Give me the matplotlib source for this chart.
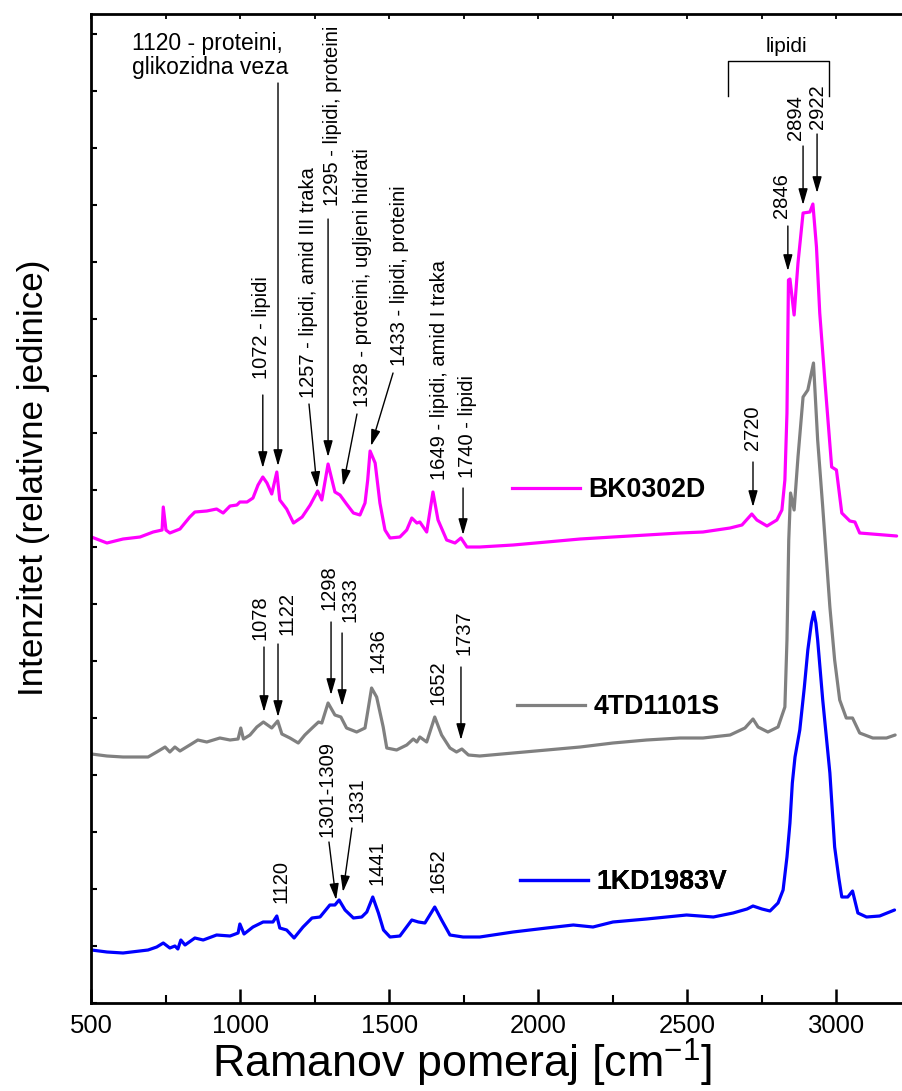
import matplotlib
matplotlib.use("Agg")
import matplotlib.pyplot as plt
from matplotlib.lines import Line2D
from matplotlib.ticker import MultipleLocator
from matplotlib import font_manager

plt.rcParams['font.family'] = ['Liberation Sans', 'DejaVu Sans']
plt.rcParams['mathtext.default'] = 'regular'

_names = {f.name for f in font_manager.fontManager.ttflist}
HAS_NARROW = 'Liberation Sans Narrow' in _names
AX_FONT = ['Liberation Sans Narrow', 'Liberation Sans', 'DejaVu Sans'] if HAS_NARROW else ['Liberation Sans', 'DejaVu Sans']
K = 1.0 if HAS_NARROW else 0.84

# ---------------- data ----------------
series_names = ["BK0302D", "4TD1101S", "1KD1983V"]
series_colors = ["#FF00FF", "#808080", "#0000FF"]

bk_x = [500, 552, 606, 663, 707, 737, 741, 750, 763, 797, 830, 847, 887, 920, 942, 965, 988, 998,
        1022, 1042, 1059, 1075, 1089, 1105, 1122, 1132, 1155, 1178, 1207, 1234, 1259, 1273, 1294,
        1317, 1334, 1356, 1379, 1401, 1418, 1427, 1435, 1452, 1468, 1485, 1502, 1535, 1558, 1575,
        1592, 1602, 1625, 1646, 1663, 1692, 1720, 1740, 1760, 1803, 1915, 2028, 2140, 2250, 2363,
        2475, 2552, 2643, 2683, 2716, 2733, 2767, 2800, 2817, 2827, 2834, 2839, 2844, 2858, 2871,
        2888, 2911, 2921, 2933, 2944, 2961, 2984, 3000, 3018, 3045, 3062, 3078, 3202]
bk_y = [4660, 4600, 4640, 4660, 4710, 4730, 4960, 4730, 4700, 4740, 4860, 4910, 4920, 4940, 4900,
        4970, 4980, 5010, 5010, 5050, 5180, 5260, 5200, 5090, 5310, 5030, 4940, 4800, 4860, 4980,
        5120, 5030, 5390, 5110, 5080, 4990, 4900, 4880, 5000, 5230, 5520, 5400, 5000, 4730, 4650,
        4660, 4730, 4850, 4800, 4810, 4710, 5110, 4830, 4630, 4600, 4650, 4560, 4560, 4580, 4610,
        4640, 4660, 4680, 4700, 4710, 4750, 4780, 4890, 4830, 4770, 4830, 4930, 5230, 5900, 7230,
        7240, 6880, 7400, 7900, 7910, 7990, 7560, 6900, 6230, 5360, 5330, 4900, 4820, 4810, 4700,
        4670]

td_x = [500, 552, 606, 690, 719, 747, 763, 780, 797, 830, 857, 887, 931, 965, 992, 1001, 1010,
        1032, 1055, 1077, 1105, 1125, 1139, 1166, 1194, 1216, 1244, 1262, 1273, 1294, 1317, 1337,
        1356, 1390, 1418, 1428, 1440, 1457, 1479, 1491, 1524, 1558, 1580, 1592, 1602, 1625, 1652,
        1675, 1703, 1725, 1743, 1765, 1803, 1915, 2028, 2140, 2250, 2363, 2475, 2552, 2643, 2693,
        2720, 2737, 2770, 2804, 2827, 2834, 2840, 2846, 2858, 2871, 2888, 2904, 2923, 2937, 2954,
        2978, 2994, 3011, 3033, 3054, 3078, 3122, 3168, 3197]
td_y = [2490, 2470, 2460, 2460, 2510, 2560, 2510, 2560, 2520, 2580, 2630, 2610, 2650, 2630, 2640,
        2750, 2640, 2680, 2760, 2810, 2750, 2820, 2690, 2650, 2600, 2680, 2760, 2810, 2800, 3000,
        2880, 2860, 2750, 2710, 2750, 2930, 3150, 3060, 2760, 2550, 2530, 2580, 2640, 2610, 2660,
        2610, 2860, 2680, 2550, 2510, 2540, 2480, 2470, 2500, 2530, 2560, 2600, 2630, 2650, 2650,
        2680, 2750, 2840, 2760, 2710, 2760, 2960, 3630, 4630, 5100, 4930, 5460, 6060, 6130, 6400,
        5630, 4960, 3960, 3430, 3030, 2850, 2850, 2700, 2650, 2650, 2680]

kd_x = [500, 552, 606, 690, 719, 741, 763, 780, 790, 800, 814, 847, 875, 920, 965, 992, 998, 1012,
        1042, 1076, 1109, 1122, 1132, 1155, 1180, 1210, 1240, 1267, 1300, 1317, 1331, 1351, 1379,
        1407, 1424, 1444, 1463, 1480, 1502, 1535, 1575, 1597, 1619, 1652, 1675, 1703, 1747, 1803,
        1915, 2028, 2117, 2183, 2250, 2363, 2497, 2587, 2653, 2700, 2720, 2750, 2777, 2804, 2821,
        2834, 2844, 2852, 2861, 2877, 2892, 2904, 2916, 2924, 2931, 2937, 2954, 2978, 2994, 3008,
        3018, 3038, 3054, 3072, 3101, 3145, 3195]
kd_y = [530, 510, 500, 530, 560, 600, 550, 570, 540, 630, 580, 650, 630, 680, 670, 700, 790, 690,
        760, 810, 810, 870, 750, 730, 650, 760, 850, 860, 980, 980, 1030, 930, 850, 860, 910, 1060,
        900, 730, 660, 670, 830, 810, 800, 960, 830, 680, 660, 660, 710, 750, 780, 760, 810, 840,
        880, 860, 900, 940, 970, 940, 920, 1000, 1130, 1460, 1800, 2200, 2460, 2730, 3150, 3530,
        3800, 3910, 3800, 3630, 3030, 2300, 1560, 1250, 1060, 1060, 1120, 900, 860, 870, 930]

xs = [bk_x, td_x, kd_x]
ys = [bk_y, td_y, kd_y]

x_ticks = [500, 1000, 1500, 2000, 2500, 3000]

# annotations: (text, text_x, text_y_bottom, arrow_from, arrow_to or None)
rot_labels = [
    ("1072 - lipidi", 1072, 6240, (1075, 6080), (1075, 5350)),
    ("1257 - lipidi, amid III traka", 1227, 6050, (1230, 5990), (1257, 5150)),
    ("1295 - lipidi, proteini", 1310, 7970, (1294, 7840), (1294, 5460)),
    ("1328 - proteini, ugljeni hidrati", 1411, 5960, (1391, 5890), (1344, 5170)),
    ("1433 - lipidi, proteini", 1535, 6370, (1512, 6300), (1438, 5570)),
    ("1649 - lipidi, amid I traka", 1669, 5230, None, None),
    ("1740 - lipidi", 1763, 5250, (1747, 5150), (1747, 4680)),
    ("2720", 2717, 5530, (2720, 5410), (2720, 4960)),
    ("2846", 2817, 7850, (2837, 7770), (2837, 7320)),
    ("2894", 2864, 8630, (2888, 8570), (2888, 7980)),
    ("2922", 2938, 8740, (2935, 8690), (2935, 8100)),
    ("1078", 1065, 3630, (1079, 3560), (1079, 2910)),
    ("1122", 1156, 3680, (1126, 3590), (1126, 2860)),
    ("1298", 1297, 3930, (1304, 3810), (1304, 3080)),
    ("1333", 1367, 3810, (1341, 3700), (1341, 2970)),
    ("1436", 1461, 3300, None, None),
    ("1652", 1663, 2980, None, None),
    ("1737", 1750, 3480, (1740, 3360), (1740, 2630)),
    ("1301-1309", 1290, 1660, (1297, 1610), (1321, 1030)),
    ("1331", 1391, 1810, (1374, 1750), (1344, 1110)),
    ("1120", 1136, 1000, None, None),
    ("1441", 1458, 1180, None, None),
    ("1652", 1663, 1100, None, None),
]

# ---------------- figure ----------------
fig = plt.figure(figsize=(9.02, 10.91), dpi=100)
ax = fig.add_axes([0.1014, 0.08066, 0.9085, 0.9065])

for x, y, c in zip(xs, ys, series_colors):
    ax.plot(x, y, color=c, lw=2.3, solid_joinstyle='round', solid_capstyle='round')

ax.set_xlim(500, 3250)
ax.set_ylim(0, 9890)

for s in ['left', 'bottom', 'top']:
    ax.spines[s].set_linewidth(2.0)
ax.spines['right'].set_visible(False)

ax.set_xticks(x_ticks)
ax.xaxis.set_minor_locator(MultipleLocator(250))
ax.tick_params(axis='x', which='major', direction='in', length=10, width=1.8,
               labelsize=22 * K, pad=8, top=False)
ax.tick_params(axis='x', which='minor', direction='in', length=6, width=1.5, top=False)
for lab in ax.get_xticklabels():
    lab.set_family(AX_FONT)
ax.yaxis.set_major_locator(MultipleLocator(570))
ax.tick_params(axis='y', which='major', direction='in', length=4, width=1.5,
               labelleft=False, right=False)

sec = ax.secondary_xaxis('top')
sec.set_xticks(x_ticks)
sec.xaxis.set_minor_locator(MultipleLocator(250))
sec.tick_params(axis='x', which='both', direction='in', length=3.5, width=1.3, labeltop=False)
sec.spines['top'].set_visible(False)

ax.set_xlabel("Ramanov pomeraj [cm$^{\\mathregular{-1}}$]", fontsize=38.5 * K, family=AX_FONT)
ax.xaxis.set_label_coords(0.452, -0.034)
ax.set_ylabel("Intenzitet (relativne jedinice)", fontsize=30 * K, family=AX_FONT)
ax.yaxis.set_label_coords(-0.05, 0.531)

# legends (one per spectrum)
leg_pos = [(0.513, 0.5187), (0.519, 0.2993), (0.523, 0.1223)]
for name, c, pos in zip(series_names, series_colors, leg_pos):
    h = Line2D([], [], color=c, lw=2.3)
    lg = ax.legend([h], [name], loc='center left', bbox_to_anchor=pos, frameon=False,
                   handlelength=2.55, handletextpad=0.3, borderpad=0, borderaxespad=0,
                   prop={'weight': 'bold', 'size': 19.3})
    ax.add_artist(lg)

arrow_kw = dict(arrowstyle='-|>,head_length=0.7,head_width=0.2', color='black', lw=1.0,
                shrinkA=0, shrinkB=0, mutation_scale=14)

for txt, tx, ty, a_from, a_to in rot_labels:
    ax.text(tx, ty, txt, rotation=90, ha='center', va='bottom', fontsize=14.5)
    if a_from is not None:
        ax.annotate('', xy=a_to, xytext=a_from, arrowprops=arrow_kw)

# horizontal label for 1120
ax.text(636, 9710, "1120 - proteini,\nglikozidna veza", ha='left', va='top', fontsize=16.5,
        linespacing=1.05)
ax.annotate('', xy=(1126, 5370), xytext=(1126, 9200), arrowprops=arrow_kw)

# lipidi bracket
ax.plot([2636, 2636, 2975, 2975], [9070, 9420, 9420, 9070], color='black', lw=1.0)
ax.text(2833, 9570, "lipidi", ha='center', va='center', fontsize=15)

fig.savefig("out.png", dpi=100)
